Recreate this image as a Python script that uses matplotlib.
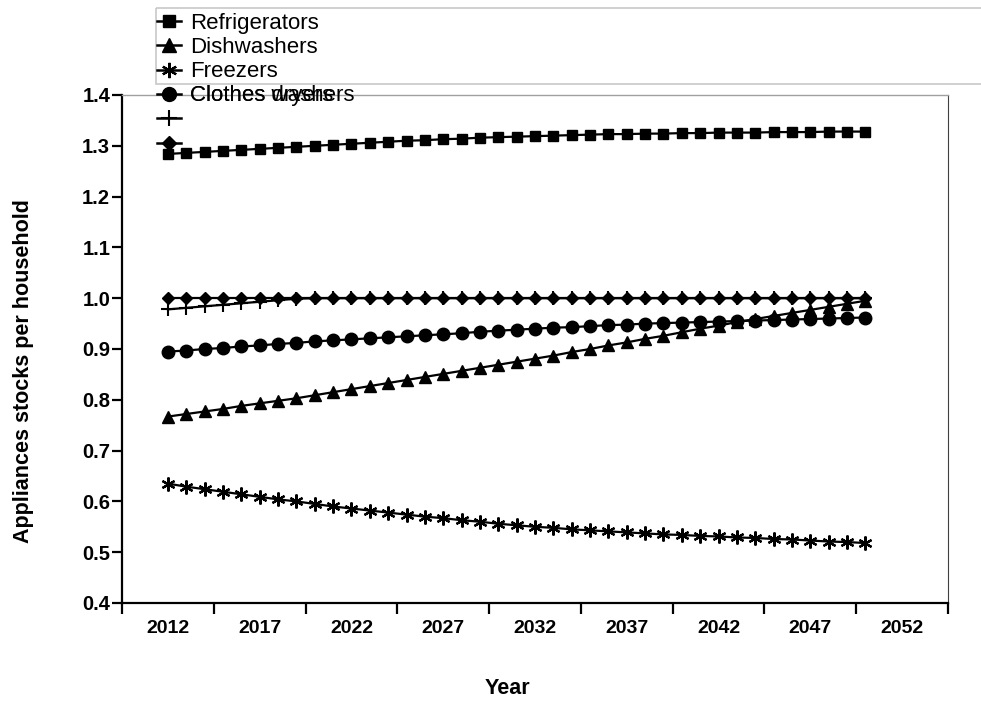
import numpy as np
import matplotlib
matplotlib.use("Agg")
import matplotlib.pyplot as plt
from matplotlib.lines import Line2D
from matplotlib.patches import Rectangle

plt.rcParams['font.family'] = ['Liberation Sans', 'DejaVu Sans']

# Tahun proyeksi 2012 - 2050
tahun = list(range(2012, 2051))

kulkas = [1.284, 1.286, 1.288, 1.290, 1.292, 1.294, 1.296, 1.298, 1.300, 1.302,
          1.304, 1.306, 1.308, 1.310, 1.311, 1.313, 1.314, 1.316, 1.317, 1.318,
          1.319, 1.320, 1.321, 1.322, 1.323, 1.323, 1.324, 1.324, 1.325, 1.325,
          1.326, 1.326, 1.326, 1.327, 1.327, 1.327, 1.328, 1.328, 1.328]

pencuci_piring = [0.767, 0.772, 0.777, 0.782, 0.788, 0.793, 0.798, 0.803, 0.809, 0.815,
                  0.821, 0.827, 0.833, 0.839, 0.845, 0.851, 0.857, 0.863, 0.869, 0.875,
                  0.881, 0.887, 0.894, 0.900, 0.907, 0.913, 0.920, 0.926, 0.933, 0.940,
                  0.946, 0.953, 0.959, 0.965, 0.971, 0.977, 0.983, 0.989, 0.995]

freezer = [0.635, 0.629, 0.624, 0.619, 0.614, 0.609, 0.604, 0.600, 0.595, 0.590,
           0.586, 0.582, 0.578, 0.574, 0.570, 0.567, 0.563, 0.560, 0.556, 0.553,
           0.550, 0.548, 0.545, 0.543, 0.541, 0.539, 0.537, 0.535, 0.534, 0.532,
           0.531, 0.529, 0.528, 0.526, 0.525, 0.523, 0.521, 0.520, 0.518]

mesin_cuci = [0.895, 0.897, 0.900, 0.902, 0.905, 0.907, 0.910, 0.912, 0.915, 0.917,
              0.919, 0.921, 0.923, 0.925, 0.927, 0.929, 0.931, 0.934, 0.936, 0.938,
              0.940, 0.942, 0.943, 0.945, 0.947, 0.948, 0.950, 0.951, 0.952, 0.953,
              0.954, 0.955, 0.956, 0.957, 0.958, 0.959, 0.960, 0.961, 0.962]

pengering = [0.978, 0.981, 0.984, 0.987, 0.990, 0.993, 0.996, 0.999] + [1.0] * 31

lainnya = [1.0] * 39

label_legenda = ["Refrigerators", "Dishwashers", "Freezers", "Clothes washers", "", ""]
label_tumpuk = "Clothes dryers"

# gaya tiap seri: (marker, ukuran, tebal tepi)
gaya = [('s', 7.8, 1.0), ('^', 9.0, 1.0), ((6, 2, 0), 10.0, 1.6),
        ('o', 9.0, 1.0), ('+', 10.0, 1.5), ('D', 6.3, 1.0)]
seri = [kulkas, pencuci_piring, freezer, mesin_cuci, pengering, lainnya]

fig = plt.figure(figsize=(9.81, 7.02), dpi=100)
W, H = 981, 702
ax = fig.add_axes([122 / W, (H - 603) / H, 826 / W, 508 / H])

for data, (mk, ms, mew) in zip(seri, gaya):
    ax.plot(tahun, data, color='black', lw=1.6, marker=mk, markersize=ms,
            markeredgewidth=mew, markerfacecolor='black', markeredgecolor='black')

ax.set_xlim(2009.5, 2054.5)
ax.set_ylim(0.4, 1.4)

# tick utama tanpa label, label tahun diletakkan di tengah antar tick
ax.set_xticks(np.arange(2009.5, 2055, 5))
ax.set_xticklabels([])
ax.set_xticks(np.arange(2012, 2053, 5), minor=True)
ax.set_xticklabels([str(t) for t in range(2012, 2053, 5)], minor=True)
ax.tick_params(axis='x', which='major', direction='out', length=8, width=1.6)
ax.tick_params(axis='x', which='minor', length=0, pad=12, labelsize=14)

ax.set_yticks(np.arange(0.4, 1.41, 0.1))
ax.set_yticklabels(["%.1f" % v for v in np.arange(0.4, 1.41, 0.1)])
ax.tick_params(axis='y', direction='out', length=7, width=1.6, pad=1.5, labelsize=14.5)
for lbl in ax.get_xticklabels(minor=True) + ax.get_yticklabels():
    lbl.set_fontweight('bold')

ax.spines['left'].set_linewidth(1.6)
ax.spines['bottom'].set_linewidth(1.6)
ax.spines['top'].set_color('#a0a0a0')
ax.spines['top'].set_linewidth(1.0)
ax.spines['right'].set_color('#404040')
ax.spines['right'].set_linewidth(0.8)

fig.text(24 / W, 1 - 371 / H, "Appliances stocks per household", rotation=90,
         ha='center', va='center', fontsize=15.5, fontweight='bold')
fig.text(507 / W, 1 - 688 / H, "Year", ha='center', va='center',
         fontsize=15.5, fontweight='bold')

# legenda digambar manual di atas area plot (koordinat piksel)
lg = fig.add_axes([0, 0, 1, 1], zorder=5)
lg.set_xlim(0, W)
lg.set_ylim(H, 0)
lg.axis('off')
lg.patch.set_alpha(0)
lg.add_patch(Rectangle((156, 8), 900, 76, fill=False, edgecolor='#c8c8c8',
                       lw=1.2, clip_on=True))
for i, ((mk, ms, mew), teks) in enumerate(zip(gaya, label_legenda)):
    yc = 21 + i * 24.3
    lg.add_line(Line2D([157, 181], [yc, yc], color='black', lw=1.8))
    lg.add_line(Line2D([169], [yc], marker=mk, markersize=ms + 1, markeredgewidth=mew,
                       color='black', markerfacecolor='black'))
    if teks:
        lg.text(190, yc + 7.5, teks, fontsize=16, va='baseline', ha='left')
lg.text(190, 21 + 3 * 24.3 + 7.5, label_tumpuk, fontsize=16, va='baseline', ha='left')

fig.savefig("out.png", dpi=100)
